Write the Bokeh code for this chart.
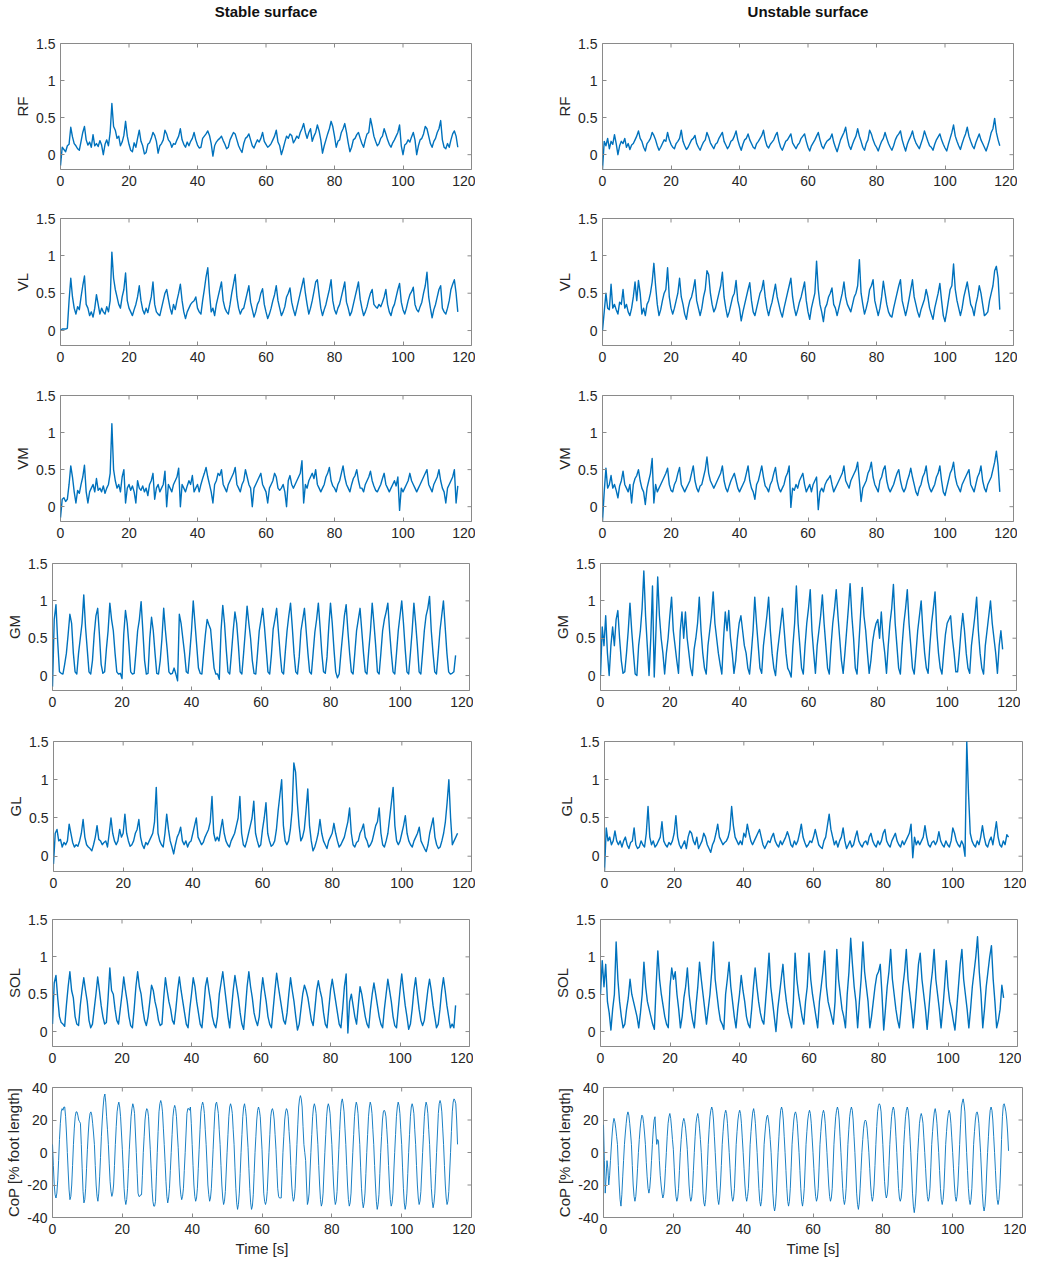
from bokeh.plotting import figure
from bokeh.layouts import column, row
from bokeh.models import Range1d, FixedTicker, CustomJSTickFormatter
from bokeh.core.properties import value
from bokeh.embed import file_html
from bokeh.resources import INLINE

# time axes: EMG read every 0.5 s, CoP every 0.25 s, 0 .. 116 s
time_s = [i * 0.5 for i in range(233)]
time_cop = [i * 0.25 for i in range(465)]

rf_stable = [
    -0.15, 0.10, 0.07, 0.04, 0.12, 0.14, 0.37, 0.24,
    0.15, 0.12, 0.08, 0.06, 0.18, 0.30, 0.38, 0.20,
    0.13, 0.17, 0.10, 0.27, 0.12, 0.15, 0.11, 0.19,
    0.13, 0.00, 0.14, 0.20, 0.12, 0.30, 0.69, 0.38,
    0.33, 0.22, 0.25, 0.12, 0.17, 0.26, 0.45, 0.25,
    0.14, 0.06, 0.04, 0.16, 0.10, 0.22, 0.33, 0.18,
    0.12, 0.01, 0.03, 0.14, 0.16, 0.22, 0.30, 0.26,
    0.18, 0.02, 0.12, 0.15, 0.20, 0.33, 0.28, 0.20,
    0.17, 0.10, 0.15, 0.14, 0.20, 0.25, 0.35, 0.20,
    0.14, 0.10, 0.17, 0.12, 0.18, 0.22, 0.30, 0.20,
    0.13, 0.09, 0.10, 0.22, 0.25, 0.28, 0.32, 0.26,
    0.15, -0.02, 0.12, 0.17, 0.20, 0.22, 0.25, 0.19,
    0.14, 0.08, 0.10, 0.20, 0.25, 0.30, 0.28, 0.20,
    0.12, 0.07, 0.03, 0.15, 0.22, 0.24, 0.28, 0.20,
    0.12, 0.09, 0.15, 0.20, 0.17, 0.22, 0.30, 0.18,
    0.14, 0.10, 0.12, 0.15, 0.20, 0.25, 0.33, 0.17,
    0.12, 0.00, 0.08, 0.17, 0.25, 0.22, 0.28, 0.26,
    0.16, 0.20, 0.25, 0.22, 0.30, 0.35, 0.42, 0.30,
    0.22, 0.30, 0.35, 0.18, 0.25, 0.30, 0.40, 0.32,
    0.20, 0.02, 0.12, 0.20, 0.28, 0.35, 0.45, 0.38,
    0.25, 0.10, 0.18, 0.20, 0.30, 0.35, 0.42, 0.30,
    0.16, 0.04, 0.10, 0.20, 0.22, 0.27, 0.30, 0.22,
    0.15, 0.10, 0.20, 0.28, 0.30, 0.49, 0.38, 0.25,
    0.18, 0.12, 0.15, 0.22, 0.25, 0.35, 0.28, 0.20,
    0.14, 0.10, 0.16, 0.20, 0.25, 0.30, 0.40, 0.12,
    0.00, 0.13, 0.15, 0.20, 0.17, 0.24, 0.30, 0.20,
    0.00, 0.12, 0.20, 0.22, 0.28, 0.38, 0.35, 0.25,
    0.15, 0.10, 0.18, 0.22, 0.30, 0.35, 0.46, 0.20,
    0.10, 0.08, 0.15, 0.10, 0.20, 0.28, 0.32, 0.25,
    0.10]

rf_unstable = [
    -0.20, 0.18, 0.12, 0.22, 0.08, 0.18, 0.14, 0.27,
    0.15, 0.00, 0.12, 0.18, 0.15, 0.22, 0.10, 0.15,
    0.07, 0.13, 0.15, 0.20, 0.25, 0.32, 0.22, 0.18,
    0.10, 0.05, 0.15, 0.18, 0.22, 0.30, 0.26, 0.20,
    0.12, 0.06, 0.10, 0.15, 0.20, 0.18, 0.30, 0.20,
    0.14, 0.10, 0.08, 0.15, 0.18, 0.22, 0.33, 0.18,
    0.12, 0.07, 0.10, 0.15, 0.20, 0.22, 0.26, 0.15,
    0.10, 0.06, 0.12, 0.17, 0.20, 0.30, 0.24, 0.16,
    0.12, 0.08, 0.14, 0.16, 0.22, 0.26, 0.30, 0.18,
    0.13, 0.08, 0.12, 0.18, 0.20, 0.25, 0.32, 0.20,
    0.12, 0.06, 0.14, 0.20, 0.22, 0.28, 0.20, 0.15,
    0.10, 0.08, 0.15, 0.18, 0.22, 0.26, 0.33, 0.20,
    0.12, 0.09, 0.14, 0.17, 0.20, 0.26, 0.30, 0.18,
    0.10, 0.06, 0.12, 0.18, 0.20, 0.24, 0.28, 0.16,
    0.12, 0.08, 0.13, 0.16, 0.22, 0.25, 0.28, 0.18,
    0.10, 0.05, 0.12, 0.16, 0.20, 0.25, 0.30, 0.20,
    0.12, 0.08, 0.14, 0.18, 0.20, 0.22, 0.28, 0.17,
    0.10, 0.04, 0.12, 0.20, 0.25, 0.30, 0.37, 0.22,
    0.12, 0.07, 0.14, 0.20, 0.25, 0.35, 0.25, 0.18,
    0.10, 0.06, 0.15, 0.20, 0.33, 0.28, 0.20, 0.14,
    0.10, 0.05, 0.12, 0.18, 0.22, 0.30, 0.22, 0.15,
    0.10, 0.06, 0.12, 0.20, 0.25, 0.28, 0.32, 0.20,
    0.12, 0.05, 0.14, 0.20, 0.25, 0.32, 0.22, 0.16,
    0.12, 0.08, 0.15, 0.22, 0.32, 0.25, 0.18, 0.12,
    0.10, 0.06, 0.14, 0.20, 0.24, 0.28, 0.20, 0.14,
    0.09, 0.05, 0.14, 0.22, 0.30, 0.40, 0.25, 0.18,
    0.12, 0.07, 0.15, 0.22, 0.28, 0.37, 0.25, 0.18,
    0.12, 0.08, 0.16, 0.22, 0.28, 0.20, 0.15, 0.10,
    0.05, 0.12, 0.20, 0.30, 0.35, 0.49, 0.30, 0.20,
    0.12]

vl_stable = [
    0.00, 0.02, 0.02, 0.02, 0.03, 0.40, 0.70, 0.45,
    0.30, 0.22, 0.32, 0.28, 0.45, 0.60, 0.73, 0.35,
    0.30, 0.20, 0.25, 0.18, 0.30, 0.48, 0.35, 0.22,
    0.30, 0.25, 0.22, 0.32, 0.25, 0.40, 1.05, 0.70,
    0.55, 0.45, 0.35, 0.30, 0.45, 0.55, 0.77, 0.40,
    0.30, 0.25, 0.20, 0.28, 0.35, 0.45, 0.60, 0.40,
    0.28, 0.22, 0.30, 0.24, 0.35, 0.45, 0.65, 0.35,
    0.25, 0.22, 0.20, 0.30, 0.40, 0.50, 0.55, 0.42,
    0.30, 0.22, 0.35, 0.28, 0.40, 0.50, 0.62, 0.40,
    0.25, 0.16, 0.25, 0.30, 0.35, 0.38, 0.40, 0.45,
    0.30, 0.25, 0.22, 0.40, 0.55, 0.72, 0.84, 0.50,
    0.25, 0.30, 0.20, 0.35, 0.45, 0.55, 0.65, 0.40,
    0.30, 0.25, 0.22, 0.35, 0.50, 0.62, 0.75, 0.45,
    0.30, 0.22, 0.28, 0.30, 0.40, 0.50, 0.60, 0.38,
    0.28, 0.18, 0.25, 0.35, 0.40, 0.50, 0.56, 0.35,
    0.25, 0.16, 0.22, 0.30, 0.40, 0.48, 0.60, 0.40,
    0.30, 0.20, 0.25, 0.32, 0.45, 0.50, 0.57, 0.38,
    0.28, 0.20, 0.30, 0.40, 0.50, 0.60, 0.70, 0.50,
    0.35, 0.22, 0.30, 0.40, 0.52, 0.65, 0.68, 0.48,
    0.30, 0.20, 0.28, 0.35, 0.45, 0.55, 0.68, 0.40,
    0.28, 0.22, 0.30, 0.35, 0.45, 0.55, 0.65, 0.38,
    0.30, 0.20, 0.25, 0.35, 0.45, 0.55, 0.65, 0.42,
    0.30, 0.20, 0.25, 0.32, 0.42, 0.50, 0.55, 0.35,
    0.32, 0.30, 0.35, 0.32, 0.38, 0.45, 0.55, 0.35,
    0.25, 0.20, 0.30, 0.35, 0.45, 0.55, 0.63, 0.38,
    0.28, 0.22, 0.30, 0.40, 0.48, 0.52, 0.58, 0.35,
    0.28, 0.25, 0.32, 0.38, 0.50, 0.60, 0.78, 0.45,
    0.30, 0.17, 0.28, 0.35, 0.45, 0.55, 0.60, 0.30,
    0.25, 0.22, 0.30, 0.40, 0.55, 0.62, 0.68, 0.50,
    0.25]

vl_unstable = [
    0.00, 0.25, 0.50, 0.30, 0.28, 0.62, 0.30, 0.35,
    0.28, 0.22, 0.38, 0.35, 0.55, 0.30, 0.35, 0.25,
    0.20, 0.30, 0.45, 0.65, 0.40, 0.67, 0.50, 0.22,
    0.30, 0.20, 0.35, 0.40, 0.50, 0.65, 0.90, 0.60,
    0.35, 0.20, 0.28, 0.40, 0.50, 0.55, 0.84, 0.45,
    0.30, 0.22, 0.30, 0.40, 0.50, 0.70, 0.45, 0.35,
    0.22, 0.15, 0.30, 0.40, 0.45, 0.55, 0.68, 0.40,
    0.30, 0.20, 0.30, 0.45, 0.55, 0.80, 0.75, 0.50,
    0.35, 0.25, 0.30, 0.40, 0.50, 0.60, 0.78, 0.45,
    0.30, 0.18, 0.25, 0.35, 0.45, 0.50, 0.67, 0.40,
    0.30, 0.13, 0.25, 0.35, 0.45, 0.55, 0.64, 0.40,
    0.25, 0.20, 0.30, 0.40, 0.50, 0.55, 0.67, 0.45,
    0.30, 0.20, 0.30, 0.38, 0.50, 0.62, 0.45, 0.35,
    0.25, 0.18, 0.30, 0.40, 0.50, 0.60, 0.70, 0.45,
    0.30, 0.20, 0.28, 0.38, 0.45, 0.55, 0.65, 0.40,
    0.25, 0.15, 0.30, 0.40, 0.50, 0.93, 0.55, 0.35,
    0.25, 0.12, 0.30, 0.35, 0.45, 0.50, 0.57, 0.35,
    0.30, 0.20, 0.30, 0.40, 0.50, 0.65, 0.45, 0.35,
    0.30, 0.25, 0.35, 0.45, 0.50, 0.60, 0.95, 0.50,
    0.35, 0.22, 0.30, 0.40, 0.55, 0.60, 0.68, 0.40,
    0.30, 0.20, 0.30, 0.45, 0.66, 0.50, 0.35, 0.25,
    0.20, 0.18, 0.30, 0.40, 0.50, 0.60, 0.68, 0.40,
    0.30, 0.20, 0.30, 0.42, 0.55, 0.68, 0.45, 0.35,
    0.25, 0.18, 0.28, 0.35, 0.42, 0.55, 0.45, 0.30,
    0.22, 0.15, 0.30, 0.40, 0.50, 0.63, 0.40, 0.20,
    0.12, 0.25, 0.40, 0.55, 0.60, 0.89, 0.55, 0.40,
    0.30, 0.20, 0.30, 0.45, 0.55, 0.65, 0.50, 0.35,
    0.30, 0.20, 0.35, 0.45, 0.60, 0.50, 0.35, 0.20,
    0.22, 0.25, 0.40, 0.50, 0.60, 0.80, 0.86, 0.70,
    0.28]

vm_stable = [
    -0.15, 0.10, 0.12, 0.07, 0.10, 0.30, 0.55, 0.40,
    0.20, 0.05, 0.22, 0.18, 0.30, 0.40, 0.56, 0.20,
    0.05, 0.20, 0.25, 0.30, 0.20, 0.38, 0.22, 0.25,
    0.20, 0.28, 0.18, 0.25, 0.30, 0.45, 1.12, 0.50,
    0.35, 0.25, 0.30, 0.20, 0.40, 0.50, 0.05, 0.25,
    0.30, 0.22, 0.28, 0.20, 0.05, 0.35, 0.25, 0.22,
    0.28, 0.20, 0.25, 0.15, 0.30, 0.35, 0.45, 0.10,
    0.25, 0.30, 0.20, 0.25, 0.30, 0.48, 0.00, 0.30,
    0.25, 0.20, 0.30, 0.35, 0.40, 0.52, 0.00, 0.30,
    0.25, 0.20, 0.28, 0.35, 0.30, 0.42, 0.20, 0.25,
    0.30, 0.20, 0.30, 0.38, 0.45, 0.53, 0.40, 0.30,
    0.20, 0.05, 0.30, 0.35, 0.45, 0.42, 0.50, 0.30,
    0.25, 0.20, 0.30, 0.35, 0.40, 0.45, 0.53, 0.30,
    0.25, 0.20, 0.30, 0.35, 0.50, 0.40, 0.30, 0.25,
    0.00, 0.25, 0.30, 0.35, 0.40, 0.45, 0.30, 0.25,
    0.20, 0.05, 0.25, 0.30, 0.35, 0.45, 0.40, 0.25,
    0.22, 0.25, 0.30, 0.20, 0.00, 0.35, 0.42, 0.30,
    0.25, 0.30, 0.35, 0.40, 0.45, 0.62, 0.05, 0.30,
    0.25, 0.35, 0.40, 0.45, 0.38, 0.50, 0.30, 0.25,
    0.20, 0.25, 0.30, 0.40, 0.45, 0.53, 0.35, 0.28,
    0.25, 0.20, 0.30, 0.35, 0.45, 0.55, 0.40, 0.30,
    0.25, 0.20, 0.30, 0.38, 0.42, 0.50, 0.35, 0.25,
    0.25, 0.20, 0.30, 0.35, 0.40, 0.48, 0.35, 0.28,
    0.22, 0.20, 0.25, 0.30, 0.38, 0.45, 0.30, 0.25,
    0.20, 0.25, 0.30, 0.35, 0.28, 0.40, -0.05, 0.25,
    0.20, 0.25, 0.30, 0.35, 0.45, 0.35, 0.30, 0.25,
    0.20, 0.25, 0.30, 0.35, 0.40, 0.45, 0.50, 0.30,
    0.25, 0.20, 0.30, 0.35, 0.40, 0.50, 0.35, 0.25,
    0.20, 0.05, 0.25, 0.30, 0.35, 0.40, 0.50, 0.05,
    0.28]

vm_unstable = [
    -0.20, 0.20, 0.52, 0.25, 0.30, 0.42, 0.25, 0.30,
    0.22, 0.12, 0.28, 0.35, 0.48, 0.30, 0.25, 0.20,
    0.30, 0.05, 0.30, 0.38, 0.42, 0.50, 0.35, 0.25,
    0.20, 0.03, 0.25, 0.35, 0.45, 0.65, 0.05, 0.30,
    0.20, 0.25, 0.30, 0.35, 0.40, 0.45, 0.52, 0.30,
    0.22, 0.20, 0.30, 0.35, 0.45, 0.53, 0.30, 0.25,
    0.20, 0.25, 0.30, 0.35, 0.45, 0.55, 0.35, 0.25,
    0.20, 0.28, 0.30, 0.40, 0.50, 0.67, 0.45, 0.35,
    0.30, 0.25, 0.30, 0.35, 0.40, 0.45, 0.55, 0.35,
    0.25, 0.20, 0.28, 0.35, 0.40, 0.45, 0.35, 0.25,
    0.20, 0.25, 0.30, 0.35, 0.45, 0.55, 0.35, 0.25,
    0.20, 0.10, 0.30, 0.35, 0.45, 0.55, 0.40, 0.28,
    0.25, 0.20, 0.30, 0.35, 0.45, 0.53, 0.35, 0.25,
    0.20, 0.25, 0.30, 0.40, 0.45, 0.55, -0.01, 0.25,
    0.22, 0.30, 0.25, 0.35, 0.40, 0.45, 0.30, 0.20,
    0.25, 0.30, 0.20, 0.30, 0.35, 0.40, -0.04, 0.20,
    0.25, 0.20, 0.30, 0.35, 0.38, 0.42, 0.30, 0.20,
    0.25, 0.30, 0.35, 0.40, 0.45, 0.55, 0.35, 0.30,
    0.25, 0.35, 0.40, 0.45, 0.50, 0.60, 0.35, 0.07,
    0.25, 0.30, 0.35, 0.45, 0.50, 0.60, 0.40, 0.30,
    0.25, 0.20, 0.35, 0.40, 0.50, 0.55, 0.35, 0.25,
    0.20, 0.25, 0.30, 0.38, 0.45, 0.50, 0.35, 0.25,
    0.20, 0.25, 0.35, 0.42, 0.52, 0.40, 0.30, 0.20,
    0.15, 0.25, 0.30, 0.40, 0.45, 0.55, 0.35, 0.25,
    0.20, 0.25, 0.30, 0.40, 0.45, 0.55, 0.35, 0.20,
    0.15, 0.25, 0.35, 0.45, 0.50, 0.60, 0.40, 0.30,
    0.25, 0.20, 0.30, 0.35, 0.40, 0.45, 0.50, 0.30,
    0.25, 0.20, 0.30, 0.40, 0.45, 0.55, 0.35, 0.25,
    0.20, 0.30, 0.35, 0.40, 0.50, 0.60, 0.75, 0.55,
    0.20]

gm_stable = [
    -0.15, 0.75, 0.95, 0.45, 0.05, 0.03, 0.02, 0.15,
    0.30, 0.55, 0.82, 0.70, 0.30, 0.05, 0.02, 0.30,
    0.50, 0.70, 1.08, 0.65, 0.35, 0.05, 0.02, 0.20,
    0.55, 0.80, 0.90, 0.55, 0.15, 0.03, 0.05, 0.35,
    0.60, 0.97, 0.75, 0.60, 0.30, 0.05, 0.02, 0.03,
    -0.04, 0.55, 0.87, 0.70, 0.40, 0.05, 0.02, 0.03,
    0.30, 0.60, 0.75, 0.99, 0.60, 0.20, 0.02, 0.03,
    0.50, 0.78, 0.60, 0.30, 0.03, 0.02, 0.20, 0.50,
    0.90, 0.60, 0.35, 0.05, 0.02, 0.03, 0.10, 0.02,
    -0.07, 0.82, 0.70, 0.50, 0.30, 0.05, 0.03, 0.30,
    0.60, 1.00, 0.70, 0.40, 0.10, 0.03, 0.02, 0.30,
    0.55, 0.75, 0.68, 0.62, 0.35, 0.10, 0.02, 0.02,
    -0.05, 0.60, 0.94, 0.70, 0.35, 0.05, 0.02, 0.30,
    0.60, 0.85, 0.70, 0.40, 0.05, 0.02, 0.30, 0.60,
    0.93, 0.70, 0.50, 0.20, 0.03, 0.02, 0.30, 0.60,
    0.75, 0.90, 0.65, 0.35, 0.05, 0.02, 0.28, 0.62,
    0.75, 0.90, 0.60, 0.30, 0.05, 0.02, 0.32, 0.60,
    0.80, 0.97, 0.65, 0.30, 0.05, 0.02, 0.25, 0.60,
    0.75, 0.90, 0.60, 0.30, 0.05, 0.02, 0.30, 0.58,
    0.75, 0.97, 0.65, 0.30, 0.05, 0.03, 0.25, 0.65,
    0.97, 0.70, 0.35, 0.05, -0.03, 0.02, 0.30, 0.55,
    0.80, 0.95, 0.60, 0.30, 0.05, 0.02, 0.30, 0.60,
    0.75, 0.90, 0.60, 0.30, 0.05, 0.02, 0.33, 0.60,
    0.97, 0.70, 0.40, 0.05, 0.02, 0.30, 0.60, 0.75,
    0.85, 0.97, 0.60, 0.30, 0.05, 0.02, 0.30, 0.60,
    0.80, 1.00, 0.70, 0.35, 0.05, 0.02, 0.30, 0.60,
    0.97, 0.70, 0.40, 0.05, 0.02, 0.30, 0.60, 0.80,
    0.90, 1.06, 0.60, 0.30, 0.05, 0.02, 0.30, 0.60,
    0.80, 1.00, 0.65, 0.30, 0.05, 0.02, 0.03, 0.05,
    0.27]

gm_unstable = [
    0.00, 0.65, 0.40, 0.80, 0.30, 0.00, 0.40, 0.65,
    0.40, 0.75, 0.87, 0.50, 0.20, 0.03, 0.05, 0.30,
    0.60, 0.97, 0.60, 0.30, 0.02, 0.00, 0.40, 0.60,
    0.90, 1.40, 0.80, 0.40, 0.00, 0.50, 1.20, -0.02,
    0.60, 1.32, 0.80, 0.50, 0.30, 0.02, 0.30, 0.50,
    0.80, 1.05, 0.60, 0.40, 0.20, 0.03, 0.60, 0.85,
    0.50, 0.85, 0.50, 0.30, 0.10, 0.00, 0.35, 0.50,
    0.70, 1.05, 0.60, 0.30, 0.10, 0.02, 0.40, 0.60,
    0.80, 1.12, 0.70, 0.50, 0.30, 0.15, 0.02, 0.50,
    0.85, 0.60, 0.87, 0.50, 0.30, 0.03, 0.20, 0.50,
    0.70, 0.80, 0.60, 0.40, 0.30, 0.10, 0.02, 0.30,
    0.60, 1.05, 0.70, 0.40, 0.10, 0.03, 0.40, 0.60,
    0.80, 1.05, 0.60, 0.30, 0.10, 0.00, 0.30, 0.50,
    0.70, 0.90, 0.60, 0.30, 0.10, 0.05, -0.02, 0.40,
    0.70, 1.20, 0.70, 0.40, 0.10, 0.02, 0.40, 0.70,
    0.90, 1.15, 0.60, 0.30, 0.03, 0.40, 0.60, 0.80,
    1.08, 0.70, 0.40, 0.10, 0.02, 0.40, 0.70, 0.90,
    1.15, 0.80, 0.50, 0.20, 0.03, 0.30, 0.60, 0.90,
    1.23, 0.80, 0.50, 0.10, 0.02, 0.40, 0.80, 1.18,
    0.80, 0.60, 0.30, 0.03, 0.20, 0.45, 0.60, 0.70,
    0.75, 0.50, 0.85, 0.50, 0.30, 0.03, 0.40, 0.70,
    0.90, 1.22, 0.70, 0.40, 0.10, 0.02, 0.40, 0.70,
    0.90, 1.15, 0.70, 0.40, 0.10, 0.02, 0.30, 0.60,
    0.80, 1.00, 0.60, 0.30, 0.10, 0.03, 0.40, 0.70,
    0.90, 1.12, 0.60, 0.30, 0.10, 0.02, 0.30, 0.55,
    0.70, 0.75, 0.80, 0.50, 0.30, 0.05, 0.05, 0.30,
    0.60, 0.83, 0.60, 0.30, 0.10, 0.03, 0.40, 0.60,
    0.80, 1.05, 0.60, 0.30, 0.10, 0.02, 0.40, 0.60,
    0.80, 1.00, 0.70, 0.50, 0.30, 0.03, 0.40, 0.60,
    0.35]

gl_stable = [
    -0.10, 0.30, 0.35, 0.20, 0.22, 0.12, 0.18, 0.15,
    0.20, 0.42, 0.30, 0.18, 0.12, 0.15, 0.13, 0.20,
    0.30, 0.48, 0.25, 0.15, 0.12, 0.10, 0.07, 0.15,
    0.25, 0.40, 0.22, 0.20, 0.15, 0.18, 0.20, 0.12,
    0.30, 0.50, 0.30, 0.20, 0.15, 0.20, 0.35, 0.25,
    0.30, 0.55, 0.30, 0.20, 0.13, 0.15, 0.20, 0.30,
    0.35, 0.48, 0.25, 0.15, 0.10, 0.18, 0.15, 0.20,
    0.25, 0.30, 0.45, 0.90, 0.30, 0.20, 0.15, 0.12,
    0.30, 0.55, 0.35, 0.20, 0.12, 0.03, 0.15, 0.25,
    0.30, 0.38, 0.20, 0.15, 0.20, 0.12, 0.18, 0.20,
    0.30, 0.40, 0.50, 0.25, 0.20, 0.15, 0.18, 0.25,
    0.30, 0.35, 0.45, 0.78, 0.30, 0.20, 0.25, 0.20,
    0.35, 0.48, 0.30, 0.20, 0.15, 0.12, 0.20, 0.25,
    0.30, 0.40, 0.50, 0.78, 0.30, 0.15, 0.12, 0.20,
    0.30, 0.40, 0.50, 0.72, 0.30, 0.20, 0.12, 0.15,
    0.35, 0.50, 0.70, 0.30, 0.20, 0.13, 0.15, 0.20,
    0.35, 0.60, 0.80, 1.00, 0.40, 0.20, 0.15, 0.20,
    0.35, 0.60, 1.22, 1.10, 0.70, 0.40, 0.20, 0.25,
    0.35, 0.60, 0.88, 0.40, 0.20, 0.07, 0.12, 0.20,
    0.30, 0.48, 0.30, 0.20, 0.15, 0.10, 0.20, 0.25,
    0.30, 0.43, 0.30, 0.20, 0.12, 0.15, 0.20, 0.25,
    0.35, 0.45, 0.63, 0.30, 0.15, 0.12, 0.18, 0.20,
    0.30, 0.35, 0.42, 0.25, 0.20, 0.12, 0.15, 0.20,
    0.30, 0.40, 0.45, 0.63, 0.30, 0.15, 0.12, 0.20,
    0.30, 0.50, 0.70, 0.90, 0.40, 0.20, 0.15, 0.20,
    0.30, 0.40, 0.53, 0.30, 0.20, 0.15, 0.12, 0.20,
    0.25, 0.30, 0.38, 0.20, 0.15, 0.10, 0.06, 0.15,
    0.30, 0.40, 0.50, 0.25, 0.15, 0.10, 0.12, 0.20,
    0.30, 0.45, 0.70, 1.00, 0.50, 0.15, 0.20, 0.25,
    0.30]

gl_unstable = [
    -0.20, 0.37, 0.20, 0.25, 0.15, 0.20, 0.33, 0.20,
    0.15, 0.20, 0.12, 0.20, 0.25, 0.15, 0.10, 0.18,
    0.20, 0.37, 0.15, 0.10, 0.12, 0.20, 0.15, 0.12,
    0.30, 0.65, 0.25, 0.15, 0.20, 0.12, 0.15, 0.20,
    0.25, 0.45, 0.20, 0.15, 0.12, 0.18, 0.15, 0.20,
    0.30, 0.53, 0.25, 0.15, 0.10, 0.15, 0.20, 0.10,
    0.25, 0.33, 0.30, 0.20, 0.15, 0.25, 0.10, 0.15,
    0.20, 0.30, 0.25, 0.15, 0.10, 0.05, 0.15, 0.20,
    0.30, 0.42, 0.25, 0.20, 0.15, 0.18, 0.20, 0.25,
    0.35, 0.65, 0.40, 0.25, 0.20, 0.15, 0.20, 0.15,
    0.30, 0.25, 0.42, 0.30, 0.20, 0.15, 0.20, 0.25,
    0.30, 0.35, 0.25, 0.15, 0.10, 0.15, 0.20, 0.18,
    0.25, 0.30, 0.20, 0.15, 0.12, 0.20, 0.15, 0.20,
    0.25, 0.32, 0.25, 0.15, 0.12, 0.20, 0.15, 0.20,
    0.30, 0.42, 0.25, 0.18, 0.12, 0.15, 0.20, 0.18,
    0.25, 0.35, 0.25, 0.15, 0.12, 0.10, 0.20, 0.25,
    0.40, 0.55, 0.35, 0.25, 0.15, 0.20, 0.12, 0.20,
    0.25, 0.37, 0.20, 0.10, 0.15, 0.20, 0.12, 0.15,
    0.25, 0.33, 0.20, 0.15, 0.12, 0.18, 0.20, 0.15,
    0.25, 0.30, 0.20, 0.15, 0.12, 0.20, 0.15, 0.20,
    0.30, 0.35, 0.20, 0.15, 0.12, 0.20, 0.25, 0.30,
    0.20, 0.15, 0.12, 0.20, 0.15, 0.20, 0.25, 0.30,
    0.42, -0.02, 0.25, 0.15, 0.20, 0.15, 0.20, 0.25,
    0.40, 0.25, 0.15, 0.12, 0.18, 0.20, 0.15, 0.20,
    0.32, 0.20, 0.15, 0.12, 0.20, 0.15, 0.12, 0.20,
    0.37, 0.30, 0.20, 0.15, 0.12, 0.20, 0.15, 0.00,
    1.50, 0.82, 0.30, 0.20, 0.15, 0.12, 0.20, 0.15,
    0.25, 0.40, 0.25, 0.15, 0.12, 0.20, 0.25, 0.15,
    0.30, 0.45, 0.25, 0.15, 0.12, 0.20, 0.15, 0.28,
    0.25]

sol_stable = [
    0.10, 0.65, 0.75, 0.45, 0.20, 0.12, 0.10, 0.07,
    0.35, 0.60, 0.80, 0.55, 0.45, 0.20, 0.10, 0.08,
    0.35, 0.55, 0.72, 0.55, 0.40, 0.15, 0.05, 0.10,
    0.30, 0.50, 0.73, 0.55, 0.35, 0.20, 0.10, 0.12,
    0.45, 0.85, 0.55, 0.50, 0.30, 0.15, 0.10, 0.30,
    0.50, 0.73, 0.55, 0.40, 0.20, 0.08, 0.05, 0.30,
    0.60, 0.80, 0.60, 0.50, 0.30, 0.15, 0.08, 0.20,
    0.40, 0.62, 0.55, 0.40, 0.30, 0.15, 0.08, 0.10,
    0.45, 0.72, 0.55, 0.40, 0.30, 0.15, 0.10, 0.30,
    0.55, 0.73, 0.55, 0.40, 0.25, 0.10, 0.05, 0.30,
    0.50, 0.72, 0.60, 0.40, 0.25, 0.10, 0.05, 0.30,
    0.60, 0.72, 0.55, 0.40, 0.20, 0.10, 0.05, 0.20,
    0.50, 0.65, 0.80, 0.60, 0.40, 0.20, 0.05, 0.30,
    0.55, 0.75, 0.60, 0.45, 0.25, 0.10, 0.03, 0.30,
    0.60, 0.80, 0.60, 0.45, 0.25, 0.15, 0.08, 0.20,
    0.50, 0.72, 0.55, 0.40, 0.20, 0.10, 0.05, 0.30,
    0.55, 0.78, 0.60, 0.45, 0.30, 0.15, 0.10, 0.25,
    0.50, 0.72, 0.55, 0.40, 0.20, 0.02, 0.10, 0.30,
    0.50, 0.62, 0.55, 0.45, 0.30, 0.15, 0.08, 0.30,
    0.55, 0.68, 0.55, 0.45, 0.25, 0.10, 0.05, 0.30,
    0.55, 0.70, 0.55, 0.40, 0.25, 0.10, 0.05, 0.30,
    0.60, 0.77, -0.02, 0.40, 0.50, 0.35, 0.20, 0.10,
    0.35, 0.60, 0.50, 0.35, 0.20, 0.10, 0.05, 0.30,
    0.50, 0.65, 0.50, 0.35, 0.20, 0.10, 0.05, 0.30,
    0.50, 0.70, 0.55, 0.40, 0.20, 0.08, 0.05, 0.30,
    0.55, 0.77, 0.55, 0.35, 0.20, 0.03, 0.10, 0.30,
    0.55, 0.72, 0.50, 0.30, 0.15, 0.08, 0.15, 0.35,
    0.55, 0.70, 0.55, 0.35, 0.20, 0.05, 0.10, 0.30,
    0.55, 0.72, 0.55, 0.35, 0.20, 0.05, 0.10, 0.05,
    0.35]

sol_unstable = [
    0.50, 0.95, 0.60, 0.90, 0.40, 0.25, 0.02, 0.30,
    0.50, 1.20, 0.70, 0.40, 0.20, 0.05, 0.10, 0.30,
    0.45, 0.70, 0.50, 0.40, 0.30, 0.20, 0.05, 0.25,
    0.50, 0.93, 0.60, 0.40, 0.30, 0.20, 0.10, 0.03,
    0.60, 1.08, 0.70, 0.50, 0.35, 0.20, 0.10, 0.05,
    0.60, 0.85, 0.70, 0.80, 0.50, 0.30, 0.05, 0.20,
    0.45, 0.60, 0.85, 0.50, 0.30, 0.15, 0.05, 0.35,
    0.60, 0.93, 0.70, 0.50, 0.30, 0.10, 0.30, 0.50,
    0.80, 1.20, 0.70, 0.50, 0.30, 0.15, 0.10, 0.03,
    0.50, 0.70, 0.93, 0.60, 0.40, 0.20, 0.05, 0.30,
    0.50, 0.75, 0.55, 0.40, 0.20, 0.10, 0.05, 0.30,
    0.60, 0.85, 0.60, 0.40, 0.25, 0.15, 0.10, 0.40,
    0.70, 1.05, 0.60, 0.40, 0.20, 0.00, 0.30, 0.50,
    0.70, 0.90, 0.60, 0.40, 0.25, 0.15, 0.05, 0.40,
    1.05, 0.70, 0.50, 0.35, 0.20, 0.10, 0.40, 0.60,
    1.05, 0.70, 0.50, 0.35, 0.20, 0.05, 0.40, 0.60,
    0.80, 1.08, 0.60, 0.40, 0.30, 0.20, 0.10, 0.40,
    1.10, 0.70, 0.50, 0.30, 0.20, 0.05, 0.50, 0.80,
    1.25, 0.90, 0.60, 0.40, 0.05, 0.40, 0.70, 1.20,
    0.80, 0.60, 0.40, 0.05, 0.20, 0.40, 0.60, 0.75,
    0.80, 0.90, 0.50, 0.02, 0.30, 0.60, 0.80, 1.10,
    0.70, 0.50, 0.30, 0.15, 0.05, 0.30, 0.60, 0.80,
    1.10, 0.70, 0.50, 0.30, 0.05, 0.30, 0.60, 0.90,
    1.05, 0.70, 0.50, 0.30, 0.03, 0.30, 0.60, 0.80,
    1.10, 0.70, 0.50, 0.30, 0.05, 0.30, 0.60, 0.95,
    0.60, 0.40, 0.30, 0.15, 0.02, 0.30, 0.60, 0.90,
    1.10, 0.70, 0.50, 0.30, 0.05, 0.30, 0.60, 0.80,
    1.00, 1.27, 0.80, 0.50, 0.05, 0.30, 0.60, 0.80,
    1.00, 1.15, 0.70, 0.40, 0.05, 0.15, 0.30, 0.62,
    0.45]

cop_stable = [
    5, -8, -20, -26, -28, -25, -17, -5, 8, 18, 25, 27, 26, 28, 28, 22,
    12, 0, -12, -23, -29, -27, -20, -8, 5, 15, 22, 25, 25, 23, 20, 19,
    18, 5, -10, -24, -31, -29, -22, -10, 2, 12, 20, 24, 25, 23, 18, 12,
    5, -8, -20, -27, -30, -25, -15, -3, 10, 20, 28, 34, 36, 31, 22, 14,
    5, -7, -18, -24, -27, -25, -20, -8, 5, 16, 25, 29, 31, 28, 22, 12,
    2, -10, -22, -29, -32, -29, -22, -10, 2, 12, 22, 27, 30, 28, 24, 12,
    0, -13, -25, -27, -27, -26, -26, -14, 0, 10, 20, 25, 27, 26, 22, 12,
    2, -10, -22, -30, -33, -33, -30, -15, 0, 13, 25, 30, 32, 30, 25, 15,
    5, -6, -18, -27, -31, -28, -22, -11, 0, 11, 22, 27, 29, 27, 22, 12,
    3, -9, -20, -26, -29, -27, -22, -11, 0, 12, 24, 27, 27, 26, 28, 18,
    5, -8, -20, -27, -30, -28, -22, -10, 2, 14, 25, 29, 31, 29, 24, 14,
    5, -7, -20, -26, -30, -28, -22, -10, 2, 14, 25, 30, 31, 28, 24, 14,
    5, -8, -20, -28, -32, -30, -24, -12, 0, 11, 22, 28, 30, 28, 24, 14,
    5, -9, -22, -31, -35, -32, -25, -13, 0, 11, 22, 28, 30, 27, 22, 12,
    3, -10, -22, -31, -35, -33, -26, -13, 0, 10, 20, 26, 28, 26, 22, 12,
    2, -12, -25, -30, -32, -30, -24, -12, 0, 11, 22, 26, 27, 25, 20, 11,
    2, -10, -22, -27, -28, -28, -28, -14, 0, 10, 20, 25, 27, 26, 22, 13,
    5, -8, -20, -27, -30, -28, -22, -8, 5, 17, 28, 33, 35, 33, 28, 16,
    5, 0, -5, -20, -32, -30, -25, -12, 0, 11, 22, 28, 30, 28, 24, 14,
    5, -8, -20, -29, -33, -31, -25, -12, 0, 11, 22, 28, 30, 28, 24, 14,
    5, -8, -20, -28, -32, -30, -24, -11, 2, 14, 25, 31, 33, 30, 25, 15,
    5, -8, -20, -29, -33, -31, -25, -12, 0, 11, 22, 28, 31, 29, 24, 14,
    5, -9, -22, -30, -34, -31, -25, -13, 0, 11, 22, 28, 31, 29, 24, 14,
    5, -8, -20, -30, -35, -32, -26, -13, 0, 10, 20, 25, 26, 25, 22, 14,
    5, -8, -20, -29, -33, -31, -25, -12, 0, 11, 22, 28, 31, 29, 24, 14,
    5, -9, -22, -31, -35, -32, -25, -13, 0, 11, 22, 28, 30, 28, 24, 14,
    5, -8, -20, -28, -32, -30, -24, -12, 0, 11, 22, 28, 31, 29, 24, 14,
    5, -9, -22, -30, -34, -31, -25, -13, 0, 12, 24, 30, 32, 30, 25, 15,
    5, -8, -20, -28, -32, -30, -24, -12, 0, 13, 25, 31, 33, 32, 30, 20,
    5]

cop_unstable = [
    17, -5, -25, -15, -5, -10, -20, -14, -5, 4, 12, 18, 21, 19, 15, 10,
    5, -8, -20, -29, -33, -26, -15, -5, 5, 12, 18, 23, 25, 23, 18, 12,
    5, -8, -20, -27, -30, -27, -20, -10, 0, 8, 15, 20, 23, 22, 18, 12,
    5, -6, -15, -22, -25, -22, -15, -5, 5, 14, 20, 22, 12, 5, 8, 7,
    -5, -14, -20, -25, -28, -26, -20, -10, 0, 10, 18, 22, 24, 21, 15, 8,
    2, -9, -20, -27, -30, -28, -22, -11, 0, 8, 15, 19, 21, 19, 15, 9,
    2, -9, -20, -27, -30, -28, -22, -11, 0, 10, 18, 22, 24, 21, 15, 8,
    0, -12, -25, -31, -33, -29, -20, -8, 5, 14, 22, 26, 28, 26, 20, 10,
    0, -11, -22, -29, -32, -28, -20, -8, 5, 13, 20, 24, 26, 24, 18, 9,
    0, -10, -20, -27, -30, -28, -22, -9, 5, 13, 20, 24, 26, 24, 18, 9,
    0, -10, -20, -27, -30, -27, -22, -9, 5, 13, 20, 25, 27, 24, 18, 9,
    0, -11, -22, -30, -33, -30, -22, -9, 5, 12, 18, 22, 23, 20, 15, 8,
    0, -12, -25, -33, -36, -33, -25, -12, 0, 10, 20, 26, 28, 26, 20, 10,
    0, -11, -22, -30, -33, -30, -22, -9, 5, 13, 20, 24, 25, 23, 18, 9,
    0, -11, -22, -30, -33, -29, -22, -9, 5, 13, 20, 24, 26, 24, 18, 9,
    0, -10, -20, -27, -30, -28, -22, -9, 5, 13, 20, 24, 26, 24, 18, 9,
    0, -10, -20, -27, -30, -28, -22, -9, 5, 14, 22, 26, 28, 26, 20, 10,
    0, -11, -22, -29, -32, -29, -22, -9, 5, 14, 22, 26, 28, 26, 20, 10,
    0, -12, -25, -32, -35, -31, -22, -11, 0, 8, 15, 19, 20, 19, 15, 8,
    0, -10, -20, -27, -30, -27, -20, -8, 5, 16, 25, 29, 30, 29, 25, 15,
    5, -7, -18, -25, -28, -26, -20, -8, 5, 14, 22, 26, 28, 26, 20, 10,
    0, -11, -22, -28, -30, -28, -22, -9, 5, 14, 22, 26, 28, 26, 20, 10,
    0, -12, -25, -33, -37, -33, -25, -12, 0, 9, 18, 22, 24, 22, 18, 9,
    0, -10, -20, -27, -30, -28, -22, -9, 5, 13, 20, 25, 27, 24, 18, 9,
    0, -11, -22, -29, -32, -29, -22, -9, 5, 13, 20, 24, 26, 24, 18, 9,
    0, -10, -20, -27, -30, -27, -20, -8, 5, 17, 28, 31, 33, 30, 25, 12,
    0, -11, -22, -29, -32, -29, -22, -9, 5, 13, 20, 24, 25, 23, 18, 9,
    0, -12, -25, -33, -36, -33, -25, -12, 0, 10, 20, 26, 28, 26, 20, 10,
    0, -11, -22, -29, -32, -29, -22, -9, 8, 22, 29, 30, 28, 25, 20, 12,
    1]

row_labels = ["RF", "VL", "VM", "GM", "GL", "SOL", "CoP [% foot length]"]
column_titles = ["Stable surface", "Unstable surface"]
stable_series = [rf_stable, vl_stable, vm_stable, gm_stable, gl_stable, sol_stable, cop_stable]
unstable_series = [rf_unstable, vl_unstable, vm_unstable, gm_unstable, gl_unstable, sol_unstable, cop_unstable]
x_ticks = [0, 20, 40, 60, 80, 100, 120]
emg_ticks = [0, 0.5, 1, 1.5]
cop_ticks = [-40, -20, 0, 20, 40]
x_label = "Time [s]"

FONT = "Liberation Sans"
BLUE = "#0072BD"
BOX = "#8a8a8a"
TXT = "#262626"

# frame geometry per row (page px): left_x, left_w, right_x, right_w, frame_h, border_top, border_bottom
geom = [
    (60, 411, 602, 411, 126, 10, 39),
    (60, 411, 602, 411, 127, 10, 40),
    (60, 411, 602, 411, 126, 10, 32),
    (52, 417, 600, 416, 127, 10, 41),
    (53, 418, 604, 418, 130, 10, 38),
    (52, 417, 600, 417, 127, 10, 31),
    (52, 419, 603, 419, 130, 10, 45),
]
TITLE_H = 33
TITLE_Y = 22  # title centre, measured up from the bottom of the title strip
GAP_R = 4
TICK = 4  # tick length in px


def style_axis(ax, standoff):
    ax.axis_line_color = None
    ax.major_tick_in = TICK
    ax.major_tick_out = 0
    ax.minor_tick_line_color = None
    ax.major_tick_line_color = BOX
    ax.major_tick_line_width = 1
    ax.major_label_text_font = FONT
    ax.major_label_text_font_size = "14px"
    ax.major_label_text_color = TXT
    ax.major_label_standoff = standoff


def make_panel(y, label, is_cop, bl, fw, br, fh, bt, bb, xlabel=None):
    ylo, yhi = (-40, 40) if is_cop else (-0.2, 1.5)
    yt = cop_ticks if is_cop else emg_ticks
    t = time_cop if is_cop else time_s
    p = figure(frame_width=fw, frame_height=fh, x_range=Range1d(0, 120), y_range=Range1d(ylo, yhi),
               min_border_left=bl, min_border_right=br, min_border_top=bt, min_border_bottom=bb,
               output_backend="svg", toolbar_location=None, title=None,
               background_fill_color="white", border_fill_color="white")
    p.grid.visible = False
    p.outline_line_color = BOX
    p.outline_line_width = 1

    # box ticks on the top and right edges (MATLAB "box on")
    dx = TICK * 120.0 / fw
    dy = TICK * (yhi - ylo) / fh
    p.segment(x0=x_ticks, y0=[yhi] * len(x_ticks), x1=x_ticks, y1=[yhi - dy] * len(x_ticks),
              line_color=BOX, line_width=1)
    p.segment(x0=[120] * len(yt), y0=yt, x1=[120 - dx] * len(yt), y1=yt,
              line_color=BOX, line_width=1)

    n = min(len(t), len(y))
    p.line(t[:n], y[:n], line_color=BLUE, line_width=0.9 if is_cop else 1.4,
           line_join="round")

    xa = p.xaxis[0]
    ya = p.yaxis[0]
    xa.ticker = FixedTicker(ticks=x_ticks)
    ya.ticker = FixedTicker(ticks=yt)
    ya.formatter = CustomJSTickFormatter(code="return String(tick);")
    style_axis(xa, 6)
    style_axis(ya, 5)
    ya.axis_label = label
    ya.axis_label_text_font = FONT
    ya.axis_label_text_font_size = "15px"
    ya.axis_label_text_font_style = "normal"
    ya.axis_label_text_color = TXT
    ya.axis_label_standoff = 2
    if xlabel:
        xa.axis_label = xlabel
        xa.axis_label_text_font = FONT
        xa.axis_label_text_font_size = "15px"
        xa.axis_label_text_font_style = "normal"
        xa.axis_label_text_color = TXT
        xa.axis_label_standoff = 3
    return p


def make_title(text, bl, fw, br):
    p = figure(frame_width=fw, frame_height=TITLE_H, x_range=Range1d(0, 120), y_range=Range1d(0, TITLE_H),
               min_border_left=bl, min_border_right=br, min_border_top=0, min_border_bottom=0,
               output_backend="svg", toolbar_location=None, title=None,
               x_axis_type=None, y_axis_type=None,
               background_fill_color="white", border_fill_color="white")
    p.grid.visible = False
    p.outline_line_color = None
    p.text(x=[60], y=[TITLE_Y], text=[text], text_align="center", text_baseline="middle",
           text_font=value(FONT), text_font_size=value("15px"), text_font_style="bold",
           text_color="#111111")
    return p


lx0, lw0, rx0, rw0 = geom[0][:4]
title_row = row(make_title(column_titles[0], lx0, lw0, GAP_R),
                make_title(column_titles[1], rx0 - (lx0 + lw0) - GAP_R, rw0, GAP_R))

rows = [title_row]
for i, (lx, lw, rx, rw, fh, bt, bb) in enumerate(geom):
    is_cop = (i == len(geom) - 1)
    xl = x_label if is_cop else None
    left = make_panel(stable_series[i], row_labels[i], is_cop,
                      lx, lw, GAP_R, fh, bt, bb, xlabel=xl)
    right = make_panel(unstable_series[i], row_labels[i], is_cop,
                       rx - (lx + lw) - GAP_R, rw, GAP_R, fh, bt, bb, xlabel=xl)
    rows.append(row(left, right))

layout = column(*rows)

open("out.html", "w").write(file_html(layout, INLINE, "EMG and CoP"))
